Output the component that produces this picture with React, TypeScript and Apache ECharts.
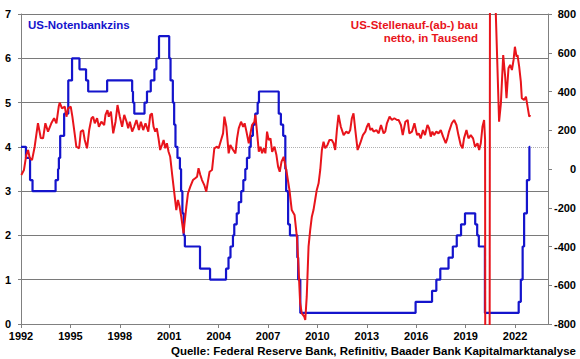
import React, { useEffect, useRef } from "react";
import * as echarts from "echarts";

// Fed funds target rate (%), change dates as decimal years
const rateDates = [
  1992.0, 1992.3, 1992.55, 1992.7, 1994.1, 1994.25, 1994.3, 1994.38, 1994.62, 1994.87,
  1995.1, 1995.55, 1995.95, 1996.08, 1997.23, 1998.75, 1998.8, 1998.88, 1999.5, 1999.65,
  1999.88, 2000.1, 2000.22, 2000.38, 2001.0, 2001.08, 2001.22, 2001.3, 2001.38, 2001.5,
  2001.65, 2001.72, 2001.8, 2001.88, 2001.95, 2002.87, 2003.48, 2004.45, 2004.6, 2004.72,
  2004.87, 2004.95, 2005.1, 2005.22, 2005.37, 2005.5, 2005.62, 2005.72, 2005.87, 2005.95,
  2006.08, 2006.22, 2006.37, 2006.45, 2007.65, 2007.78, 2007.92, 2008.05, 2008.1, 2008.22,
  2008.33, 2008.78, 2008.83, 2008.96, 2015.96, 2016.96, 2017.22, 2017.46, 2017.96, 2018.22,
  2018.46, 2018.72, 2018.96, 2019.58, 2019.7, 2019.8, 2020.17, 2022.22, 2022.35, 2022.46,
  2022.55, 2022.72, 2022.87, 2022.92,
];
const rateValues = [
  4.0, 3.75, 3.25, 3.0, 3.25, 3.5, 3.75, 4.25, 4.75, 5.5,
  6.0, 5.75, 5.5, 5.25, 5.5, 5.25, 5.0, 4.75, 5.0, 5.25,
  5.5, 5.75, 6.0, 6.5, 6.0, 5.5, 5.0, 4.5, 4.0, 3.75,
  3.5, 3.0, 2.5, 2.0, 1.75, 1.25, 1.0, 1.25, 1.5, 1.75,
  2.0, 2.25, 2.5, 2.75, 3.0, 3.25, 3.5, 3.75, 4.0, 4.25,
  4.5, 4.75, 5.0, 5.25, 4.75, 4.5, 4.25, 3.5, 3.0, 2.25,
  2.0, 1.5, 1.0, 0.25, 0.5, 0.75, 1.0, 1.25, 1.5, 1.75,
  2.0, 2.25, 2.5, 2.25, 2.0, 1.75, 0.25, 0.5, 1.0, 1.75,
  2.5, 3.25, 4.0, 4.0,
];

// US nonfarm payroll change (thousand), decimal years
const payrollDates = [
  1992.02, 1992.18, 1992.32, 1992.43, 1992.53, 1992.67, 1992.83, 1993.03, 1993.2, 1993.34,
  1993.48, 1993.64, 1993.84, 1994.01, 1994.15, 1994.29, 1994.35, 1994.49, 1994.66, 1994.76,
  1994.86, 1995.02, 1995.12, 1995.27, 1995.36, 1995.53, 1995.63, 1995.77, 1995.87, 1996.01,
  1996.14, 1996.28, 1996.38, 1996.48, 1996.62, 1996.73, 1996.88, 1997.05, 1997.13, 1997.25,
  1997.33, 1997.46, 1997.6, 1997.74, 1997.86, 1998.0, 1998.14, 1998.27, 1998.41, 1998.51,
  1998.61, 1998.75, 1998.87, 1999.01, 1999.16, 1999.28, 1999.42, 1999.56, 1999.73, 1999.85,
  1999.95, 2000.05, 2000.15, 2000.25, 2000.35, 2000.45, 2000.56, 2000.66, 2000.76, 2000.86,
  2000.96, 2001.06, 2001.17, 2001.31, 2001.43, 2001.53, 2001.63, 2001.73, 2001.87, 2001.93,
  2002.04, 2002.14, 2002.28, 2002.44, 2002.58, 2002.69, 2002.78, 2002.89, 2002.99, 2003.13,
  2003.25, 2003.33, 2003.45, 2003.6, 2003.74, 2003.9, 2004.0, 2004.15, 2004.27, 2004.35,
  2004.47, 2004.61, 2004.71, 2004.88, 2005.02, 2005.12, 2005.22, 2005.36, 2005.49, 2005.58,
  2005.69, 2005.83, 2005.93, 2006.03, 2006.17, 2006.23, 2006.34, 2006.44, 2006.54, 2006.64,
  2006.74, 2006.84, 2006.94, 2007.04, 2007.15, 2007.25, 2007.39, 2007.51, 2007.61, 2007.71,
  2007.82, 2007.95, 2008.14, 2008.3, 2008.44, 2008.61, 2008.75, 2008.85, 2008.95, 2009.05,
  2009.2, 2009.26, 2009.35, 2009.46, 2009.56, 2009.66, 2009.76, 2009.86, 2009.96, 2010.07,
  2010.17, 2010.27, 2010.37, 2010.47, 2010.61, 2010.73, 2010.87, 2010.98, 2011.08, 2011.18,
  2011.28, 2011.42, 2011.59, 2011.75, 2011.89, 2011.99, 2012.09, 2012.19, 2012.3, 2012.44,
  2012.6, 2012.76, 2012.91, 2013.0, 2013.11, 2013.21, 2013.31, 2013.41, 2013.58, 2013.72,
  2013.86, 2014.02, 2014.12, 2014.22, 2014.38, 2014.52, 2014.67, 2014.83, 2014.93, 2015.07,
  2015.18, 2015.34, 2015.48, 2015.58, 2015.74, 2015.89, 2016.05, 2016.15, 2016.27, 2016.41,
  2016.53, 2016.68, 2016.78, 2016.88, 2016.98, 2017.08, 2017.22, 2017.35, 2017.49, 2017.63,
  2017.79, 2017.89, 2017.99, 2018.16, 2018.3, 2018.44, 2018.56, 2018.7, 2018.81, 2018.9,
  2019.05, 2019.17, 2019.31, 2019.45, 2019.57, 2019.72, 2019.82, 2019.92, 2020.02, 2020.12,
  2020.18, 2020.25, 2020.33, 2020.42, 2020.5, 2020.58, 2020.67, 2020.76, 2021.03, 2021.14,
  2021.28, 2021.4, 2021.48, 2021.6, 2021.7, 2021.81, 2021.91, 2021.99, 2022.09, 2022.15,
  2022.25, 2022.35, 2022.41, 2022.55, 2022.66, 2022.76, 2022.86, 2022.92,
];
const payrollChange = [
  -31, -5, 72, 98, 57, 46, 115, 237, 160, 158,
  236, 193, 236, 262, 236, 322, 342, 313, 322, 270,
  313, 322, 270, 175, 115, 107, 193, 201, 150, 107,
  201, 262, 270, 236, 262, 218, 244, 227, 279, 304,
  270, 296, 184, 244, 330, 270, 218, 279, 244, 210,
  244, 193, 218, 253, 201, 244, 201, 236, 193, 279,
  287, 218, 193, 210, 158, 98, 124, 150, 107, 133,
  89, 63, -22, -125, -212, -160, -194, -246, -332, -280,
  -194, -125, -91, -57, -48, -40, 4, -31, -57, -83,
  -117, -74, -14, -5, 107, 115, 107, 150, 184, 270,
  218, 81, 124, 98, 81, 158, 210, 244, 218, 236,
  193, 133, 184, 227, 244, 279, 184, 89, 115, 81,
  107, 81, 193, 150, 158, 89, 115, 72, 12, -14,
  38, 63, -22, -108, -212, -237, -349, -504, -693, -745,
  -762, -779, -659, -401, -315, -246, -212, -160, -108, -74,
  -5, 98, 141, 107, 124, 150, 150, 133, 98, 201,
  279, 218, 175, 193, 184, 201, 262, 287, 201, 98,
  133, 175, 193, 218, 236, 201, 210, 193, 201, 184,
  227, 184, 193, 236, 270, 253, 262, 253, 253, 227,
  175, 244, 253, 184, 193, 236, 175, 184, 158, 201,
  175, 227, 210, 167, 193, 175, 193, 184, 201, 167,
  133, 158, 193, 236, 253, 227, 175, 124, 107, 158,
  201, 158, 175, 158, 115, 133, 98, 133, 218, 253,
  150, -7200, -6300, -4270, 3135, 2700, 1340, 1000, 244, 339,
  588, 476, 365, 520, 537, 511, 563, 631, 580, 588,
  528, 451, 365, 356, 373, 322, 270, 279,
];

const leftTitle = "US-Notenbankzins";
const rightTitle = "US-Stellenauf-(ab-) bau\nnetto, in Tausend";
const sourceText = "Quelle: Federal Reserve Bank, Refinitiv, Baader Bank Kapitalmarktanalyse";

const FONT = '"Liberation Sans", Arial, sans-serif';
const BLUE = "#1414CC";
const RED = "#E8141B";
const GRID = "#7a7a7a";

export default function App() {
  const ref = useRef<HTMLDivElement>(null);
  useEffect(() => {
    if (!ref.current) return;
    const chart = echarts.init(ref.current, undefined, { renderer: "svg" });
    const rateData = rateDates.map((d, i) => [d, rateValues[i]]);
    const payData = payrollDates.map((d, i) => [d, payrollChange[i]]);
    const labelStyle = {
      color: "#000",
      fontWeight: "bold" as const,
      fontSize: 11,
      fontFamily: FONT,
    };
    chart.setOption({
      animation: false,
      grid: { left: 21, right: 32, top: 14, bottom: 35 },
      xAxis: {
        type: "value",
        min: 1992,
        max: 2024,
        interval: 3,
        axisLine: { show: true, onZero: false, lineStyle: { color: "#808080", width: 1 } },
        axisTick: { show: true, length: 4, lineStyle: { color: "#808080" } },
        axisLabel: { ...labelStyle, margin: 6, showMaxLabel: false, formatter: (v: number) => String(v) },
        splitLine: { show: false },
      },
      yAxis: [
        {
          type: "value",
          min: 0,
          max: 7,
          interval: 1,
          position: "left",
          axisLine: { show: true, lineStyle: { color: "#808080" } },
          axisTick: { show: true, length: 3, lineStyle: { color: "#808080" } },
          axisLabel: { ...labelStyle, margin: 10 },
          splitLine: {
            show: true,
            lineStyle: {
              color: [GRID, GRID, GRID, GRID, "rgba(0,0,0,0)", GRID, GRID, GRID],
              width: 1,
            },
          },
        },
        {
          type: "value",
          min: -800,
          max: 800,
          interval: 200,
          position: "right",
          axisLine: { show: true, lineStyle: { color: "#808080" } },
          axisTick: { show: true, length: 4, lineStyle: { color: "#808080" } },
          axisLabel: { ...labelStyle, margin: 28, align: "right" },
          splitLine: { show: false },
        },
      ],
      series: [
        {
          type: "line",
          name: "Notenbankzins",
          yAxisIndex: 0,
          data: rateData,
          step: "end",
          showSymbol: false,
          lineStyle: { color: BLUE, width: 2.2 },
          z: 2,
          markLine: {
            silent: true,
            symbol: "none",
            z: 1,
            label: { show: false },
            lineStyle: { color: "#b0b0b0", type: "dotted", width: 1 },
            data: [{ yAxis: 4 }],
          },
        },
        {
          type: "line",
          name: "Stellenaufbau",
          yAxisIndex: 1,
          data: payData,
          showSymbol: false,
          lineStyle: { color: RED, width: 2 },
          z: 3,
        },
      ],
      graphic: [
        {
          type: "text",
          left: 28,
          top: 19,
          style: { text: leftTitle, fill: BLUE, font: `bold 11.5px ${FONT}` },
        },
        {
          type: "text",
          x: 478,
          y: 18,
          style: {
            text: rightTitle,
            fill: RED,
            font: `bold 11.5px ${FONT}`,
            align: "right",
            lineHeight: 13,
          },
        },
        {
          type: "text",
          x: 576,
          y: 345,
          style: { text: sourceText, fill: "#000", font: `bold 11.5px ${FONT}`, align: "right" },
        },
      ],
    });
    return () => chart.dispose();
  }, []);
  return (
    <div
      ref={ref}
      style={{ position: "fixed", left: 0, top: 0, width: 580, height: 359, background: "#fff" }}
    />
  );
}
